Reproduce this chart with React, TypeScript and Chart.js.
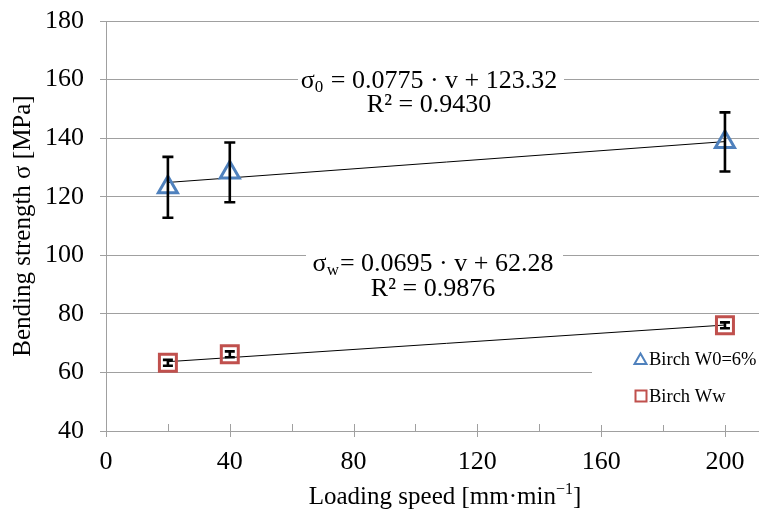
import React, { useEffect, useRef } from 'react';
import { Chart, registerables } from 'chart.js';

Chart.register(...registerables);

// ---------- data ----------
const speeds = [20, 40, 200];
const birchW0 = [123.2, 128.3, 138.7];
const birchW0Err = [10.4, 10.2, 10.1];
const birchWw = [63.3, 66.2, 76.1];
const birchWwErr = [1.0, 1.0, 1.0];
const seriesLabels = ['Birch W0=6%', 'Birch Ww'];
const trendSlopes = [0.0775, 0.0695];
const trendIntercepts = [123.32, 62.28];
const trendSubscripts = ['0', 'w'];
const trendEqGap = [' = ', '= '];
const trendR2 = ['0.9430', '0.9876'];
const xTicks = [0, 40, 80, 120, 160, 200];
const xMinorTicks = [20, 60, 100, 140, 180];
const yTicks = [40, 60, 80, 100, 120, 140, 160, 180];
const xTitle = 'Loading speed [mm·min';
const xTitleSup = '−1';
const yTitle = 'Bending strength σ [MPa]';

// ---------- styles ----------
const FONT = "'Liberation Serif', 'Times New Roman', serif";
const BLUE = '#4f81bd';
const RED = '#c0504d';
const GRID = '#a0a0a0';

const W = 759;
const H = 512;

const trendPoints = (k: number) => [
  { x: speeds[0], y: trendSlopes[k] * speeds[0] + trendIntercepts[k] },
  { x: speeds[speeds.length - 1], y: trendSlopes[k] * speeds[speeds.length - 1] + trendIntercepts[k] },
];

// equation label boxes (pixel layout)
const eqLayout = [
  { cx: 429, y1: 81, y2: 105, box: [298, 66, 266, 52] },
  { cx: 433, y1: 264, y2: 289, box: [306, 249, 257, 54] },
];

const errorBarPlugin = {
  id: 'errorBars',
  afterDatasetsDraw(chart: any) {
    const ctx = chart.ctx;
    const y = chart.scales.y;
    chart.data.datasets.forEach((ds: any, di: number) => {
      if (!ds.errors) return;
      const meta = chart.getDatasetMeta(di);
      ctx.save();
      ctx.strokeStyle = '#000';
      ctx.lineWidth = 2.6;
      meta.data.forEach((pt: any, i: number) => {
        const v = ds.data[i].y;
        const e = ds.errors[i];
        const top = y.getPixelForValue(v + e);
        const bot = y.getPixelForValue(v - e);
        const half = ds.capHalf;
        ctx.beginPath();
        ctx.moveTo(pt.x, top);
        ctx.lineTo(pt.x, bot);
        ctx.moveTo(pt.x - half, top);
        ctx.lineTo(pt.x + half, top);
        ctx.moveTo(pt.x - half, bot);
        ctx.lineTo(pt.x + half, bot);
        ctx.stroke();
      });
      ctx.restore();
    });
  },
};

const overlayPlugin = {
  id: 'overlay',
  beforeDatasetsDraw(chart: any) {
    const ctx = chart.ctx;
    const xs = chart.scales.x;
    const area = chart.chartArea;
    ctx.save();
    // x axis tick marks
    ctx.strokeStyle = GRID;
    ctx.lineWidth = 1;
    ctx.beginPath();
    xTicks.forEach((v) => {
      const px = Math.round(xs.getPixelForValue(v)) + 0.5;
      ctx.moveTo(px, area.bottom - 7);
      ctx.lineTo(px, area.bottom + 6);
    });
    xMinorTicks.forEach((v) => {
      const px = Math.round(xs.getPixelForValue(v)) + 0.5;
      ctx.moveTo(px, area.bottom - 7);
      ctx.lineTo(px, area.bottom);
    });
    ctx.stroke();

    // trend equation labels
    eqLayout.forEach((L, k) => {
      ctx.fillStyle = '#fff';
      ctx.fillRect(L.box[0], L.box[1], L.box[2], L.box[3]);
      ctx.fillStyle = '#000';
      ctx.textBaseline = 'middle';
      const big = `26px ${FONT}`;
      const small = `17px ${FONT}`;
      const rest = `${trendEqGap[k]}${trendSlopes[k].toFixed(4)} · v + ${trendIntercepts[k].toFixed(2)}`;
      ctx.font = big;
      const wS = ctx.measureText('σ').width;
      const wR = ctx.measureText(rest).width;
      ctx.font = small;
      const wSub = ctx.measureText(trendSubscripts[k]).width;
      const total = wS + wSub + 1 + wR;
      const x0 = L.cx - total / 2;
      ctx.textAlign = 'left';
      ctx.font = big;
      ctx.fillText('σ', x0, L.y1);
      ctx.font = small;
      ctx.fillText(trendSubscripts[k], x0 + wS, L.y1 + 7);
      ctx.font = big;
      ctx.fillText(rest, x0 + wS + wSub + 1, L.y1);
      ctx.textAlign = 'center';
      ctx.fillText(`R² = ${trendR2[k]}`, L.cx, L.y2);
    });

    // legend
    ctx.fillStyle = '#fff';
    ctx.fillRect(592, 338, W - 592, 87);
    const entries = [
      { y: 359, style: 'triangle', color: BLUE },
      { y: 396, style: 'rect', color: RED },
    ];
    entries.forEach((e, i) => {
      ctx.strokeStyle = e.color;
      ctx.lineWidth = 2;
      ctx.beginPath();
      if (e.style === 'triangle') {
        ctx.moveTo(640.5, e.y - 5.5);
        ctx.lineTo(646.5, e.y + 5);
        ctx.lineTo(634.5, e.y + 5);
        ctx.closePath();
      } else {
        ctx.rect(635.5, e.y - 5.5, 11, 11);
      }
      ctx.stroke();
      ctx.fillStyle = '#000';
      ctx.font = `18.5px ${FONT}`;
      ctx.textAlign = 'left';
      ctx.textBaseline = 'middle';
      ctx.fillText(chart.data.datasets[i].label, 649, e.y + 1);
    });

    // x axis title
    ctx.fillStyle = '#000';
    ctx.textBaseline = 'alphabetic';
    ctx.font = `25px ${FONT}`;
    const wT = ctx.measureText(xTitle).width;
    ctx.font = `16px ${FONT}`;
    const wSup = ctx.measureText(xTitleSup).width;
    ctx.font = `25px ${FONT}`;
    const wB = ctx.measureText(']').width;
    const tot = wT + wSup + wB;
    const tx = 445 - tot / 2;
    ctx.textAlign = 'left';
    ctx.fillText(xTitle, tx, 504);
    ctx.font = `16px ${FONT}`;
    ctx.fillText(xTitleSup, tx + wT, 494);
    ctx.font = `25px ${FONT}`;
    ctx.fillText(']', tx + wT + wSup, 504);
    ctx.restore();
  },
};

export default function App() {
  const ref = useRef<HTMLCanvasElement>(null);
  useEffect(() => {
    if (!ref.current) return;
    document.documentElement.style.overflow = 'hidden';
    document.body.style.margin = '0';
    document.body.style.overflow = 'hidden';
    const chart = new Chart(ref.current, {
      type: 'scatter',
      data: {
        datasets: [
          {
            label: seriesLabels[0],
            data: speeds.map((x, i) => ({ x, y: birchW0[i] })),
            pointStyle: 'triangle',
            pointRadius: 11,
            borderColor: BLUE,
            backgroundColor: 'rgba(0,0,0,0)',
            borderWidth: 3,
            errors: birchW0Err,
            capHalf: 5.5,
          } as any,
          {
            label: seriesLabels[1],
            data: speeds.map((x, i) => ({ x, y: birchWw[i] })),
            pointStyle: 'rect',
            pointRadius: 12,
            borderColor: RED,
            backgroundColor: 'rgba(0,0,0,0)',
            borderWidth: 3,
            errors: birchWwErr,
            capHalf: 5,
          } as any,
          {
            type: 'line',
            label: 'trend0',
            data: trendPoints(0),
            borderColor: '#000',
            borderWidth: 1,
            pointRadius: 0,
            showLine: true,
          } as any,
          {
            type: 'line',
            label: 'trend1',
            data: trendPoints(1),
            borderColor: '#000',
            borderWidth: 1,
            pointRadius: 0,
            showLine: true,
          } as any,
        ],
      },
      options: {
        animation: false,
        responsive: false,
        devicePixelRatio: 1,
        layout: { autoPadding: false, padding: { top: 21, right: 0, left: 0, bottom: 0 } },
        plugins: { legend: { display: false }, tooltip: { enabled: false } },
        scales: {
          x: {
            type: 'linear',
            min: 0,
            max: 211,
            afterBuildTicks: (s: any) => {
              s.ticks = xTicks.map((v) => ({ value: v }));
            },
            afterFit: (s: any) => {
              s.height = H - 431;
              s.paddingLeft = 0;
              s.paddingRight = 0;
            },
            ticks: { font: { family: FONT, size: 26 }, color: '#000', padding: 16, maxRotation: 0 },
            grid: { display: true, drawOnChartArea: false, drawTicks: false, color: GRID },
            border: { color: GRID, width: 1 },
          },
          y: {
            type: 'linear',
            min: 40,
            max: 180,
            afterBuildTicks: (s: any) => {
              s.ticks = yTicks.map((v) => ({ value: v }));
            },
            afterFit: (s: any) => {
              s.width = 106;
              s.paddingTop = 0;
              s.paddingBottom = 0;
            },
            ticks: { font: { family: FONT, size: 26 }, color: '#000', padding: 16 },
            grid: { color: GRID, lineWidth: 1, tickLength: 6 },
            border: { color: GRID, width: 1 },
            title: {
              display: true,
              text: yTitle,
              font: { family: FONT, size: 25 },
              color: '#000',
              padding: { top: 8, bottom: 0 },
            },
          },
        },
      },
      plugins: [overlayPlugin, errorBarPlugin],
    });
    return () => chart.destroy();
  }, []);
  return (
    <div style={{ position: 'absolute', left: 0, top: 0, width: W, height: H, background: '#fff' }}>
      <canvas ref={ref} width={W} height={H} style={{ display: 'block', width: W, height: H }} />
    </div>
  );
}
